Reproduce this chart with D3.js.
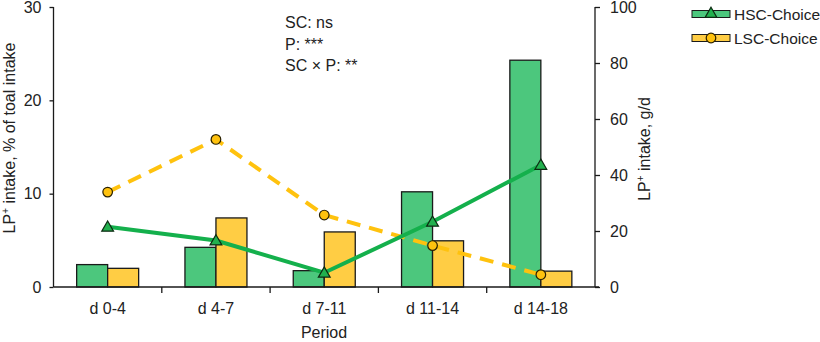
<!DOCTYPE html>
<html><head><meta charset="utf-8">
<script src="https://cdn.jsdelivr.net/npm/d3@7"></script>
<style>
body{margin:0;background:#fff;}
text{font-family:"Liberation Sans",Arial,sans-serif;fill:#222;}
</style></head>
<body><svg id="c" width="820" height="342"></svg>
<script>
const periods = ["d 0-4","d 4-7","d 7-11","d 11-14","d 14-18"];
const hscPct = [2.4, 4.25, 1.75, 10.2, 24.3];
const lscPct = [2.0, 7.4, 5.9, 4.95, 1.7];
const hscIntake = [21.5, 16.6, 5.1, 23.3, 43.6];
const lscIntake = [33.9, 52.7, 25.7, 14.8, 4.4];
const leftTicks = [0,10,20,30];
const rightTicks = [0,20,40,60,80,100];
const series = ["HSC-Choice","LSC-Choice"];
const annotations = ["SC: ns","P: ***","SC × P: **"];

const barCol = {"HSC-Choice":"#4cc77d","LSC-Choice":"#ffcd44"};
const lineCol = {"HSC-Choice":"#14b04c","LSC-Choice":"#ffc20e"};

const svg = d3.select("#c");
const L = 53.5, R = 595, T = 7, B = 287;
const x = d3.scaleBand().domain(periods).range([L,R]);
const yL = d3.scaleLinear().domain([0,30]).range([B,T]);
const yR = d3.scaleLinear().domain([0,100]).range([B,T]);
const bw = 31;

// bars
const barData = [];
periods.forEach((p,i)=>{
  barData.push({p, s:"HSC-Choice", v:hscPct[i], off:-bw});
  barData.push({p, s:"LSC-Choice", v:lscPct[i], off:0});
});
svg.append("g").selectAll("rect").data(barData).join("rect")
  .attr("x", d=>x(d.p)+x.bandwidth()/2+d.off)
  .attr("y", d=>yL(d.v))
  .attr("width", bw)
  .attr("height", d=>B-yL(d.v))
  .attr("fill", d=>barCol[d.s])
  .attr("stroke","#1a1a1a").attr("stroke-width",1.3);

// axes
const axisStyle = g=>{
  g.selectAll("path,line").attr("stroke","#1a1a1a").attr("stroke-width",1.3);
  g.selectAll("text").attr("font-size","16px").attr("fill","#222")
   .attr("font-family","Liberation Sans, Arial, sans-serif");
};
svg.append("g").attr("transform",`translate(${L},0)`)
  .call(d3.axisLeft(yL).tickValues(leftTicks).tickSize(4).tickPadding(8))
  .call(axisStyle).call(g=>g.select(".domain").remove())
  .call(g=>g.append("line").attr("y1",T).attr("y2",B).attr("stroke","#1a1a1a").attr("stroke-width",1.3));
svg.append("g").attr("transform",`translate(${R},0)`)
  .call(d3.axisRight(yR).tickValues(rightTicks).tickSize(5).tickPadding(10))
  .call(axisStyle).call(g=>g.select(".domain").remove())
  .call(g=>g.append("line").attr("y1",T).attr("y2",B).attr("stroke","#1a1a1a").attr("stroke-width",1.3));

// x axis
const xg = svg.append("g").attr("transform",`translate(0,${B})`);
xg.append("line").attr("x1",L).attr("x2",R+4).attr("stroke","#1a1a1a").attr("stroke-width",1.3);
xg.selectAll("line.t").data(periods.slice(1)).join("line").attr("class","t")
  .attr("x1",d=>x(d)).attr("x2",d=>x(d)).attr("y1",0).attr("y2",6)
  .attr("stroke","#1a1a1a").attr("stroke-width",1.3);
xg.selectAll("text").data(periods).join("text")
  .attr("x",d=>x(d)+x.bandwidth()/2).attr("y",27).attr("text-anchor","middle")
  .attr("font-size","16px").text(d=>d);

svg.append("text").attr("x",324).attr("y",338).attr("text-anchor","middle")
  .attr("font-size","16px").text("Period");

// axis titles
const lt = svg.append("text").attr("transform","translate(15,138) rotate(-90)")
  .attr("text-anchor","middle").attr("font-size","16px");
lt.append("tspan").text("LP");
lt.append("tspan").attr("font-size","10px").attr("dy","-6").text("+");
lt.append("tspan").attr("dy","6").text(" intake, % of toal intake");
const rt = svg.append("text").attr("transform","translate(650,149) rotate(-90)")
  .attr("text-anchor","middle").attr("font-size","16px");
rt.append("tspan").text("LP");
rt.append("tspan").attr("font-size","10px").attr("dy","-6").text("+");
rt.append("tspan").attr("dy","6").text(" intake, g/d");

// lines
const cx = d=>x(d)+x.bandwidth()/2;
const lineGen = d3.line().x(d=>cx(d.p)).y(d=>yR(d.v));
const lscPts = periods.map((p,i)=>({p,v:lscIntake[i]}));
const hscPts = periods.map((p,i)=>({p,v:hscIntake[i]}));
svg.append("path").datum(lscPts).attr("d",lineGen).attr("fill","none")
  .attr("stroke",lineCol["LSC-Choice"]).attr("stroke-width",4).attr("stroke-dasharray","14,9");
svg.append("path").datum(hscPts).attr("d",lineGen).attr("fill","none")
  .attr("stroke",lineCol["HSC-Choice"]).attr("stroke-width",4);

const tri = d3.symbol().type(d3.symbolTriangle).size(60);
svg.append("g").selectAll("path").data(hscPts).join("path")
  .attr("transform",d=>`translate(${cx(d.p)},${yR(d.v)+1})`).attr("d",tri)
  .attr("fill","#22b04e").attr("stroke","#0d2a12").attr("stroke-width",1.2);
svg.append("g").selectAll("circle").data(lscPts).join("circle")
  .attr("cx",d=>cx(d.p)).attr("cy",d=>yR(d.v)).attr("r",4.8)
  .attr("fill","#ffc20e").attr("stroke","#2a2000").attr("stroke-width",1.2);

// annotations
svg.append("g").selectAll("text").data(annotations).join("text")
  .attr("x",285).attr("y",(d,i)=>28+i*21.5).attr("font-size","16px").text(d=>d);

// legend
const lg = svg.append("g");
series.forEach((s,i)=>{
  const yy = 14 + i*24;
  lg.append("rect").attr("x",692).attr("y",yy-3.5).attr("width",38).attr("height",7)
    .attr("fill",barCol[s]).attr("stroke","#1a1a1a").attr("stroke-width",1);
  if(i===0){
    lg.append("path").attr("transform",`translate(711,${yy})`).attr("d",tri)
      .attr("fill","#22b04e").attr("stroke","#0d2a12").attr("stroke-width",1.2);
  } else {
    lg.append("circle").attr("cx",711).attr("cy",yy).attr("r",4.8)
      .attr("fill","#ffc20e").attr("stroke","#2a2000").attr("stroke-width",1.2);
  }
  lg.append("text").attr("x",734).attr("y",yy+5.5).attr("font-size","15.5px").text(s);
});
</script></body></html>
